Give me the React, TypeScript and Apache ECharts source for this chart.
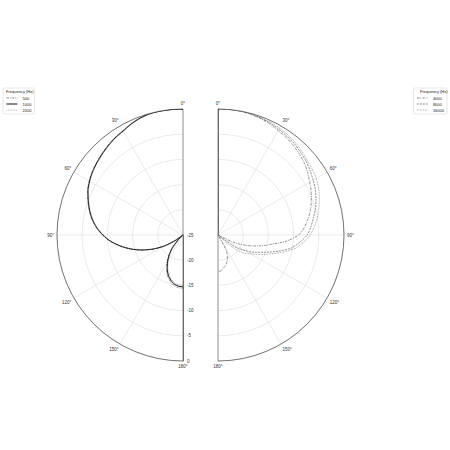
import React, { useEffect, useRef } from "react";
import * as echarts from "echarts";

// polar response, dB relative to on-axis, sampled every 5 degrees
const angles = [
  0, 5, 10, 15, 20, 25, 30, 35, 40, 45, 50, 55, 60, 65, 70, 75, 80, 85, 90,
  95, 100, 105, 110, 115, 120, 125, 130, 135, 140, 145, 150, 155, 160, 165, 170, 175, 180,
];

const leftFreqs = ["500", "1000", "2000"];
const rightFreqs = ["4000", "8000", "16000"];

const db500 = [
  0, 0, 0, -0.05, -0.25, -0.6, -1.1, -1.4, -1.8, -2.2, -2.6, -3.0, -3.5, -4.1, -4.9, -5.7, -6.6, -7.7, -9.0,
  -10.5, -12.3, -14.2, -16.2, -18.3, -20.4, -22.6, -25, -23.6, -21.6, -20.0, -18.6, -17.3, -16.2, -15.4, -14.8, -14.5, -14.4,
];
const db1000 = [
  0, 0, 0, -0.05, -0.3, -0.7, -1.2, -1.5, -1.9, -2.3, -2.7, -3.1, -3.6, -4.2, -5.0, -5.8, -6.7, -7.8, -9.1,
  -10.6, -12.4, -14.3, -16.3, -18.4, -20.5, -22.8, -25, -23.8, -21.9, -20.3, -18.9, -17.6, -16.5, -15.7, -15.1, -14.8, -14.7,
];
const db2000 = [
  0, 0, 0, -0.1, -0.35, -0.75, -1.3, -1.6, -2.0, -2.4, -2.8, -3.2, -3.7, -4.3, -5.1, -5.9, -6.8, -7.9, -9.2,
  -10.7, -12.5, -14.4, -16.4, -18.5, -20.7, -23.0, -25, -24.0, -22.2, -20.6, -19.2, -17.9, -16.8, -16.0, -15.4, -15.1, -15.0,
];
const db4000 = [
  0, 0, -0.05, -0.2, -0.4, -0.7, -1.1, -1.4, -1.8, -2.2, -2.7, -3.3, -4.0, -4.6, -5.3, -6.0, -6.9, -7.8, -9.0,
  -11.3, -14.3, -16.6, -18.9, -21.5, -25, -25, -25, -25, -25, -25, -22.8, -20.6, -19.6, -18.9, -18.4, -17.9, -17.7,
];
const db8000 = [
  0, 0, 0, -0.1, -0.3, -0.5, -0.8, -1.1, -1.4, -1.8, -2.2, -2.7, -3.2, -3.7, -4.3, -5.0, -5.8, -6.5, -7.3,
  -8.7, -10.2, -12.6, -15.0, -16.9, -18.8, -21.0, -25, -25, -25, -25, -25, -25, -25, -25, -25, -25, -25,
];
const db16000 = [
  0, 0, 0, -0.05, -0.2, -0.35, -0.5, -0.8, -1.1, -1.5, -1.9, -2.2, -2.5, -3.0, -3.6, -4.3, -5.0, -5.8, -6.7,
  -8.0, -9.5, -11.8, -14.0, -15.8, -17.5, -18.8, -21.0, -25, -25, -25, -25, -25, -25, -25, -25, -25, -25,
];

const leftValues = [db500, db1000, db2000];
const rightValues = [db4000, db8000, db16000];

const leftStyles = [
  { color: "#444", width: 0.6, type: [2.5, 1, 0.8, 1] },
  { color: "#000", width: 0.95, type: "solid" },
  { color: "#777", width: 0.6, type: [0.8, 0.8] },
];
const rightStyles = [
  { color: "#444", width: 0.6, type: [2.5, 1, 0.8, 1] },
  { color: "#444", width: 0.6, type: [2, 1] },
  { color: "#666", width: 0.6, type: [0.8, 0.8] },
];

const gridColor = "#dcdcdc";
const frameColor = "#444";
const fs = 4.5;

export default function App() {
  const chartRef = useRef<HTMLDivElement>(null);

  useEffect(() => {
    if (!chartRef.current) return;
    const chart = echarts.init(chartRef.current, null, { renderer: "svg" });

    const angleAxisBase = {
      type: "value",
      min: 0,
      max: 180,
      interval: 30,
      clockwise: true,
      axisLine: { show: true, lineStyle: { color: frameColor, width: 0.7 } },
      axisTick: { show: false },
      splitLine: {
        show: true,
        lineStyle: {
          color: [frameColor, gridColor, gridColor, gridColor, gridColor, gridColor, frameColor],
          width: 0.6,
        },
      },
    };
    const radiusAxisBase = {
      type: "value",
      min: -25,
      max: 0,
      interval: 5,
      axisLine: { show: true, lineStyle: { color: frameColor, width: 0.7 } },
      axisTick: { show: false },
      splitLine: { show: true, lineStyle: { color: gridColor, width: 0.6 } },
    };

    const legendBase = {
      orient: "vertical",
      top: 88,
      padding: [8, 3, 2, 3],
      itemWidth: 11,
      itemHeight: 5,
      itemGap: 2,
      selectedMode: false,
      backgroundColor: "#fff",
      borderColor: "#ccc",
      borderWidth: 0.5,
      borderRadius: 1.5,
      itemStyle: { opacity: 0 },
      textStyle: { fontSize: 4, color: "#222", width: 18, align: "right" },
    };

    const legendItems = (names: string[], styles: any[]) =>
      names.map((name, i) => ({
        name,
        lineStyle: { width: styles[i].width, type: styles[i].type, color: styles[i].color },
      }));

    const titleText = { fontSize: 4, fontWeight: "normal", color: "#222" };

    const options = {
      animation: false,
      title: [
        { text: "Frequency (Hz)", left: 6, top: 89, padding: 0, z: 10, textStyle: titleText },
        { text: "Frequency (Hz)", left: 420, top: 89, padding: 0, z: 10, textStyle: titleText },
      ],
      legend: [
        { ...legendBase, data: legendItems(leftFreqs, leftStyles), left: 3 },
        { ...legendBase, data: legendItems(rightFreqs, rightStyles), right: 3 },
      ],
      polar: [
        { center: [183, 235], radius: 126 },
        { center: [218, 235], radius: 126 },
      ],
      angleAxis: [
        {
          ...angleAxisBase,
          polarIndex: 0,
          min: -180,
          max: 0,
          startAngle: 270,
          endAngle: 90,
          axisLabel: { fontSize: fs, color: "#333", margin: 3, formatter: (v: number) => Math.abs(v) + "°" },
        },
        {
          ...angleAxisBase,
          polarIndex: 1,
          startAngle: 90,
          endAngle: -90,
          axisLabel: { fontSize: fs, color: "#333", margin: 3, formatter: (v: number) => v + "°" },
        },
      ],
      radiusAxis: [
        { ...radiusAxisBase, polarIndex: 0, axisLabel: { fontSize: fs, color: "#333", margin: 4 } },
        { ...radiusAxisBase, polarIndex: 1, axisLabel: { show: false } },
      ],
      series: [
        ...leftFreqs.map((name, i) => ({
          name,
          type: "line",
          coordinateSystem: "polar",
          polarIndex: 0,
          symbol: "none",
          smooth: 0.25,
          lineStyle: leftStyles[i],
          itemStyle: { color: leftStyles[i].color },
          data: angles.map((a, j) => [leftValues[i][j], -a]),
        })),
        ...rightFreqs.map((name, i) => ({
          name,
          type: "line",
          coordinateSystem: "polar",
          polarIndex: 1,
          symbol: "none",
          smooth: 0.25,
          lineStyle: rightStyles[i],
          itemStyle: { color: rightStyles[i].color },
          data: angles.map((a, j) => [rightValues[i][j], a]),
        })),
      ],
    };

    chart.setOption(options as any);
    return () => chart.dispose();
  }, []);

  return (
    <div
      ref={chartRef}
      style={{ position: "fixed", left: 0, top: 0, width: 450, height: 450, background: "#fff" }}
    />
  );
}
